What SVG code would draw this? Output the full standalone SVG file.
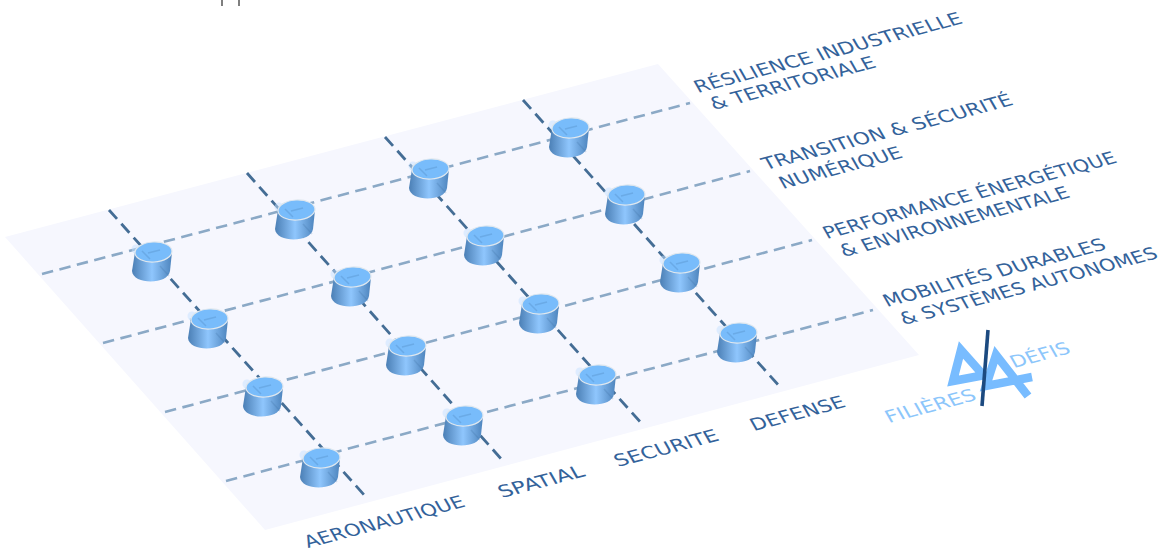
<svg xmlns="http://www.w3.org/2000/svg" width="1160" height="550" viewBox="0 0 1160 550">
<style>
.h{stroke:#8ba9c6;stroke-width:2.6;stroke-dasharray:11.500 6.500;fill:none}
.v{stroke:#446d95;stroke-width:2.800;stroke-dasharray:12 6.500;fill:none}
.t{font-family:"DejaVu Sans",Verdana,sans-serif;font-size:18px;fill:#33629a}
.l{font-family:"DejaVu Sans",Verdana,sans-serif;font-size:18px;fill:#8cc6fb}
.over{stroke:#3d6d9e;stroke-width:1.500;opacity:.22;fill:none}
</style>
<defs>
<linearGradient id="g" x1="0" x2="1" y1="0" y2="0">
<stop offset="0" stop-color="#4b7fb5"/><stop offset=".5" stop-color="#8fc6fd"/><stop offset="1" stop-color="#4d84bd"/>
</linearGradient>
<g id="cyl">
<circle cx="-16" cy="-12" r="4.500" fill="#c5e1ff" opacity=".5"/>
<path d="M-17-9 L-20 10 C-19 24 16 24 18 10 L20-9Z" fill="url(#g)"/>
<ellipse cx="1.500" cy="-9" rx="18.500" ry="10" fill="#78bcfb" stroke="#dfe7ee" stroke-width="1.200" transform="rotate(-3 1.500 -9)"/>
<path class="over" d="M-10-10L-2-2M8 5L17 15M-4-8L8-11"/>
</g>
</defs>
<path d="M222 0V6M239 0V6" stroke="#555" stroke-width="1.500"/>
<path id="plane" d="M5 237L658 64L919 355L265 530Z" fill="#f6f7fe"/>
<g id="connectors">
<path class="h" d="M42 274L690 103"/><path class="h" d="M103 343L750 171"/><path class="h" d="M165 412L812 240"/><path class="h" d="M226 481L873 310"/>
<path class="v" d="M109 210L366 497"/><path class="v" d="M247 173L503 461"/><path class="v" d="M385 137L643 425"/><path class="v" d="M523 100L781 388"/>
</g>
<g id="n11"><use href="#cyl" x="152" y="261"/></g>
<g id="n12"><use href="#cyl" x="295" y="219"/></g>
<g id="n13"><use href="#cyl" x="429" y="178"/></g>
<g id="n14"><use href="#cyl" x="569" y="137"/></g>
<g id="n21"><use href="#cyl" x="208" y="328"/></g>
<g id="n22"><use href="#cyl" x="351" y="286"/></g>
<g id="n23"><use href="#cyl" x="484" y="245"/></g>
<g id="n24"><use href="#cyl" x="625" y="204"/></g>
<g id="n31"><use href="#cyl" x="263" y="396"/></g>
<g id="n32"><use href="#cyl" x="406" y="355"/></g>
<g id="n33"><use href="#cyl" x="539" y="313"/></g>
<g id="n34"><use href="#cyl" x="680" y="272"/></g>
<g id="n41"><use href="#cyl" x="320" y="467"/></g>
<g id="n42"><use href="#cyl" x="463" y="425"/></g>
<g id="n43"><use href="#cyl" x="596" y="384"/></g>
<g id="n44"><use href="#cyl" x="737" y="342"/></g>
<g id="labels">
<text class="t" transform="matrix(.967 -.255 .5 .87 698 93)" textLength="275" lengthAdjust="spacingAndGlyphs">RÉSILIENCE INDUSTRIELLE</text>
<text class="t" transform="matrix(.967 -.255 .5 .87 714 110)" textLength="169" lengthAdjust="spacingAndGlyphs">&amp; TERRITORIALE</text>
<text class="t" transform="matrix(.967 -.255 .5 .87 766 170)" textLength="257" lengthAdjust="spacingAndGlyphs">TRANSITION &amp; SÉCURITÉ</text>
<text class="t" transform="matrix(.967 -.255 .5 .87 783 189)" textLength="125" lengthAdjust="spacingAndGlyphs">NUMÉRIQUE</text>
<text class="t" transform="matrix(.967 -.255 .5 .87 827 239)" textLength="301" lengthAdjust="spacingAndGlyphs">PERFORMANCE ÉNERGÉTIQUE</text>
<text class="t" transform="matrix(.967 -.255 .5 .87 844 257)" textLength="235" lengthAdjust="spacingAndGlyphs">&amp; ENVIRONNEMENTALE</text>
<text class="t" transform="matrix(.967 -.255 .5 .87 887 307)" textLength="228" lengthAdjust="spacingAndGlyphs">MOBILITÉS DURABLES</text>
<text class="t" transform="matrix(.967 -.255 .5 .87 904 325)" textLength="264" lengthAdjust="spacingAndGlyphs">&amp; SYSTÈMES AUTONOMES</text>
<text class="t" transform="matrix(.967 -.255 .5 .87 308 548)" textLength="164" lengthAdjust="spacingAndGlyphs">AERONAUTIQUE</text>
<text class="t" transform="matrix(.967 -.255 .5 .87 502 498)" textLength="87" lengthAdjust="spacingAndGlyphs">SPATIAL</text>
<text class="t" transform="matrix(.967 -.255 .5 .87 618 467)" textLength="106" lengthAdjust="spacingAndGlyphs">SECURITE</text>
<text class="t" transform="matrix(.967 -.255 .5 .87 754 431)" textLength="96" lengthAdjust="spacingAndGlyphs">DEFENSE</text>
</g>
<g id="logo">
<path d="M985 375L953 381L961 350L985 377M1032 377L986 386L996 355L1028 396" fill="none" stroke="#78bcff" stroke-width="8.500"/>
<path d="M988 330L982 406" stroke="#1c4a80" stroke-width="3.600"/>
<text class="l" transform="matrix(.967 -.255 .5 .87 889 423)" textLength="92" lengthAdjust="spacingAndGlyphs">FILIÈRES</text>
<text class="l" transform="matrix(.967 -.255 .5 .87 1014 368)" textLength="60" lengthAdjust="spacingAndGlyphs">DÉFIS</text>
</g>
</svg>
